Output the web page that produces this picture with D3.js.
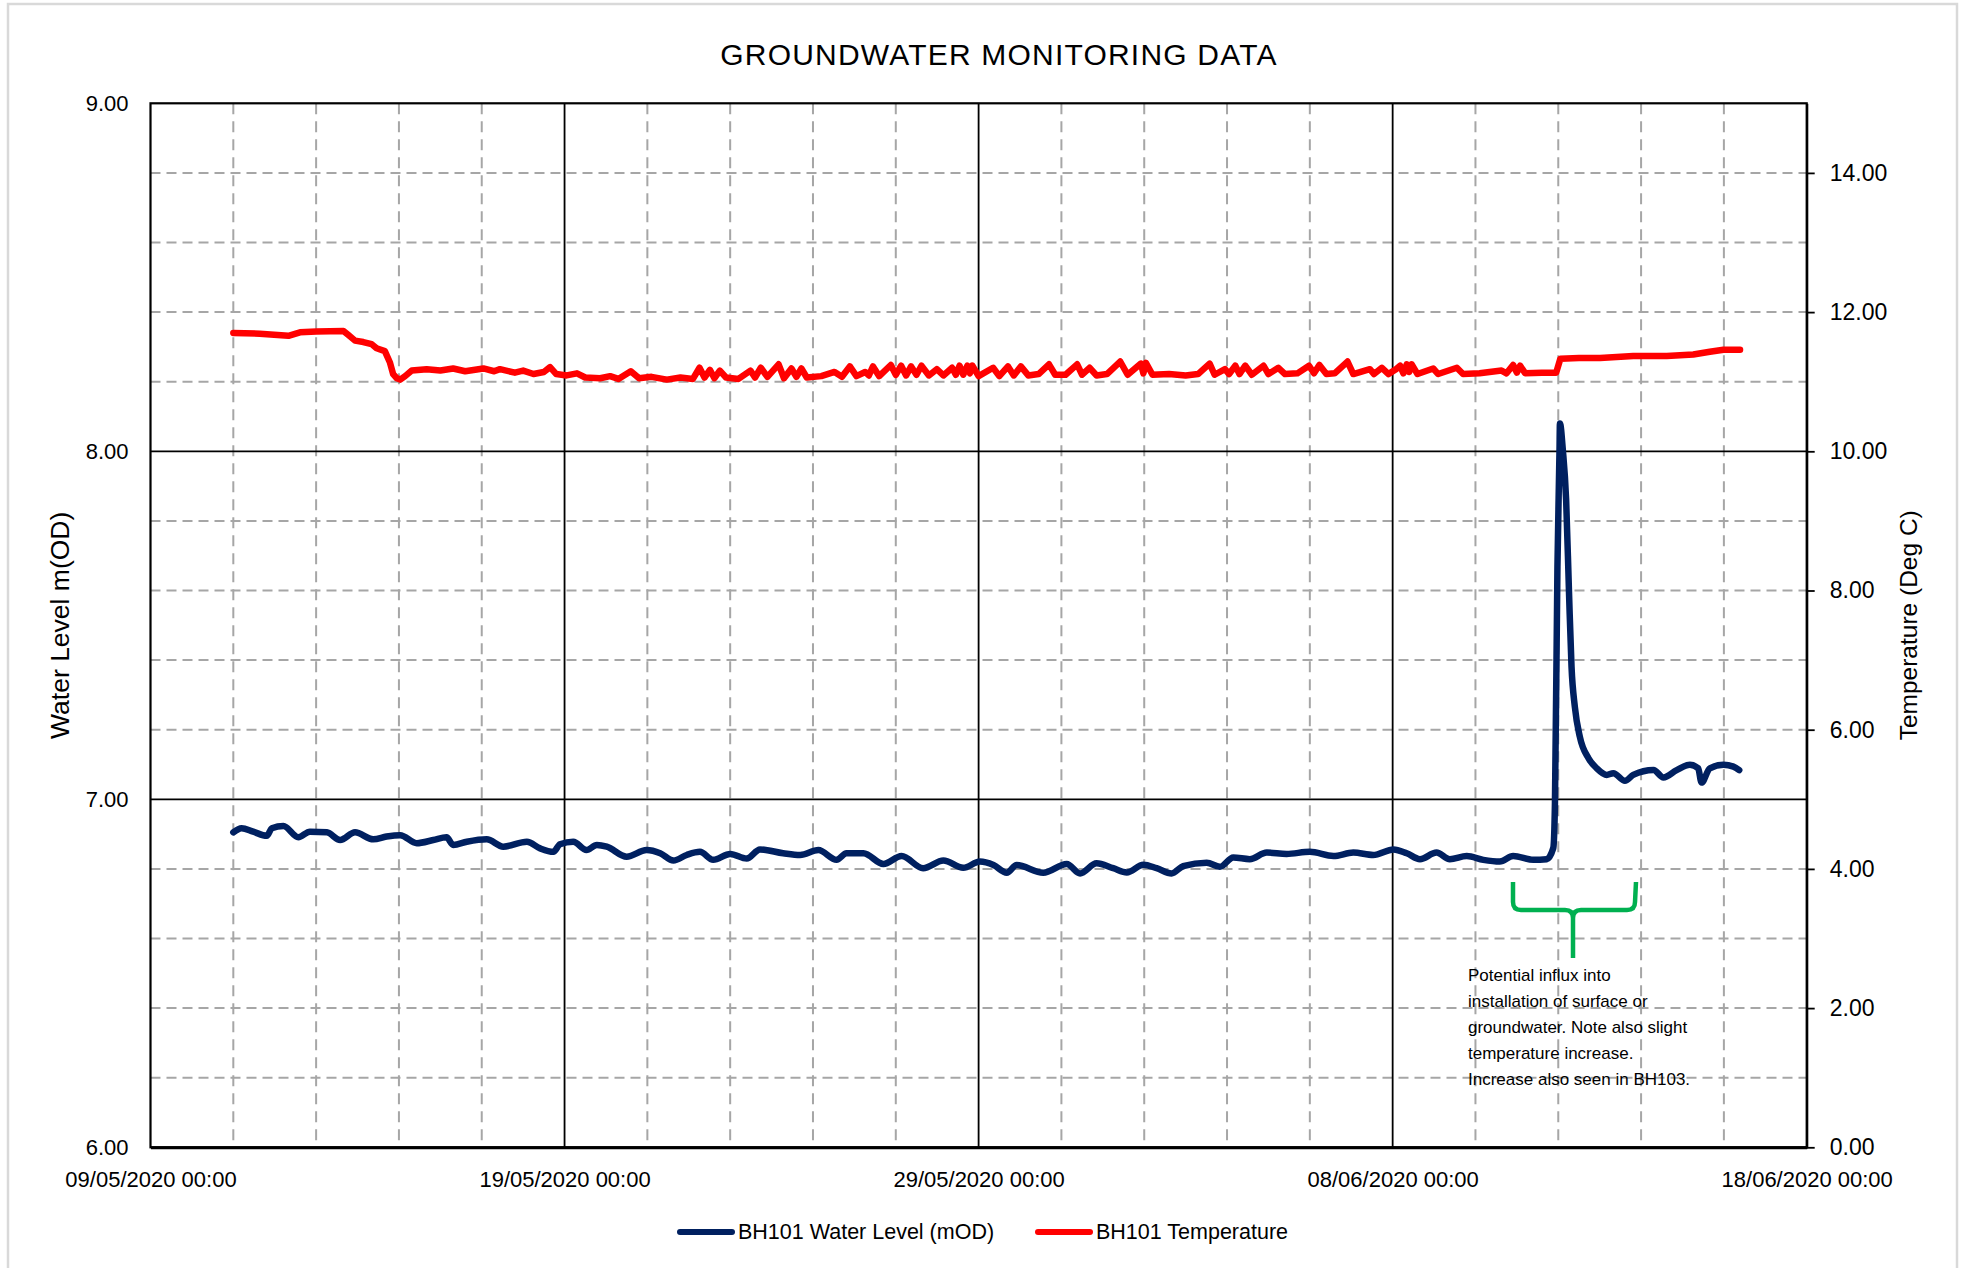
<!DOCTYPE html>
<html>
<head>
<meta charset="utf-8">
<script src="https://cdn.jsdelivr.net/npm/d3@7"></script>
<style>
  html, body { margin: 0; padding: 0; background: #ffffff; }
  svg { display: block; }
</style>
</head>
<body>
<svg id="chart" width="1966" height="1268"></svg>
<script>
// ---- Data -------------------------------------------------------------
const chartTitle = "GROUNDWATER MONITORING DATA";
const startDate = "09/05/2020 00:00";
const endDate = "18/06/2020 00:00";
const dateTicks = ["09/05/2020 00:00", "19/05/2020 00:00", "29/05/2020 00:00", "08/06/2020 00:00", "18/06/2020 00:00"];
const levelTicks = [6, 7, 8, 9];
const tempTicks = [0, 2, 4, 6, 8, 10, 12, 14];
const seriesNames = ["BH101 Water Level (mOD)", "BH101 Temperature"];
const axisTitles = ["Water Level m(OD)", "Temperature (Deg C)"];
const noteLines = [
  "Potential influx into",
  "installation of surface or",
  "groundwater. Note also slight",
  "temperature increase.",
  "Increase also seen in BH103."
];

// Logger readings, time as days elapsed since 09/05/2020 00:00
const levelDays = [
  2.00, 2.20, 2.48, 2.81, 2.93, 3.21, 3.57, 3.85, 4.26, 4.58, 4.94, 5.38, 5.70, 6.03, 6.43, 6.83,
  7.15, 7.31, 7.64, 8.12, 8.52, 9.09, 9.41, 9.73, 9.89, 10.21, 10.53, 10.78, 11.02, 11.50, 11.98,
  12.31, 12.63, 12.95, 13.27, 13.59, 14.00, 14.40, 14.72, 15.28, 15.69, 16.13, 16.57, 16.81, 17.22,
  17.70, 18.14, 18.66, 19.15, 19.63, 20.03, 20.36, 20.68, 20.92, 21.56, 22.13, 22.45, 22.85, 23.25,
  23.58, 23.98, 24.30, 24.66, 24.94, 25.51, 25.83, 26.15, 26.55, 26.96, 27.44, 28.00, 28.57, 29.05,
  29.53, 30.02, 30.34, 30.66, 31.06, 31.38, 31.79, 32.19, 32.59, 32.91, 33.40, 33.72, 33.88, 33.92,
  33.98, 34.03, 34.04, 34.11, 34.19, 34.26, 34.32, 34.40, 34.52, 34.73, 34.93, 35.17, 35.33, 35.61,
  35.81, 36.30, 36.54, 36.86, 37.18, 37.38, 37.46, 37.66, 37.99, 38.23, 38.37
];
const levelValues = [
  6.905, 6.917, 6.907, 6.895, 6.917, 6.923, 6.891, 6.907, 6.905, 6.883, 6.905, 6.885, 6.893, 6.897, 6.874, 6.883,
  6.891, 6.869, 6.878, 6.885, 6.864, 6.878, 6.859, 6.849, 6.871, 6.878, 6.854, 6.869, 6.864, 6.835, 6.854,
  6.845, 6.824, 6.840, 6.849, 6.826, 6.843, 6.830, 6.856, 6.845, 6.840, 6.854, 6.826, 6.845, 6.845,
  6.814, 6.837, 6.802, 6.824, 6.803, 6.821, 6.811, 6.789, 6.811, 6.789, 6.814, 6.787, 6.816, 6.802,
  6.790, 6.812, 6.802, 6.787, 6.808, 6.818, 6.806, 6.833, 6.828, 6.847, 6.843, 6.849, 6.837, 6.847,
  6.840, 6.856, 6.845, 6.828, 6.847, 6.828, 6.837, 6.826, 6.821, 6.837, 6.826, 6.828, 6.860, 6.990,
  7.668, 8.004, 8.080, 8.004, 7.860, 7.592, 7.381, 7.266, 7.180, 7.118, 7.089, 7.070, 7.075, 7.053,
  7.070, 7.084, 7.063, 7.084, 7.099, 7.089, 7.048, 7.089, 7.099, 7.094, 7.084
];

const tempDays = [
  2.00, 2.64, 3.33, 3.61, 4.01, 4.66, 4.78, 4.94, 5.14, 5.34, 5.46, 5.66, 5.78, 5.86, 5.95, 6.03,
  6.15, 6.31, 6.67, 7.00, 7.31, 7.60, 8.04, 8.30, 8.44, 8.80, 9.00, 9.25, 9.50, 9.65, 9.80, 10.05,
  10.30, 10.50, 10.86, 11.10, 11.30, 11.60, 11.80, 12.10, 12.47, 12.80, 13.10, 13.26, 13.38, 13.51,
  13.62, 13.75, 13.90, 14.20, 14.49, 14.60, 14.74, 14.90, 15.17, 15.30, 15.48, 15.60, 15.72, 15.85,
  16.20, 16.52, 16.70, 16.89, 17.05, 17.26, 17.35, 17.45, 17.60, 17.88, 18.00, 18.13, 18.25, 18.37,
  18.50, 18.62, 18.80, 18.99, 19.15, 19.36, 19.45, 19.54, 19.63, 19.73, 19.79, 19.85, 20.00, 20.35,
  20.50, 20.71, 20.85, 21.02, 21.20, 21.45, 21.70, 21.85, 22.10, 22.38, 22.50, 22.68, 22.85, 23.10,
  23.42, 23.60, 23.92, 23.98, 24.04, 24.20, 24.60, 25.00, 25.30, 25.58, 25.70, 25.95, 26.05, 26.20,
  26.30, 26.44, 26.60, 26.88, 27.00, 27.24, 27.40, 27.70, 27.98, 28.10, 28.23, 28.40, 28.60, 28.91,
  29.05, 29.45, 29.55, 29.74, 29.90, 30.08, 30.18, 30.26, 30.34, 30.40, 30.46, 30.60, 30.98, 31.10,
  31.55, 31.70, 32.10, 32.63, 32.75, 32.91, 33.00, 33.08, 33.20, 33.60, 33.95, 34.05, 34.50, 35.01,
  35.81, 36.62, 37.26, 37.66, 37.99, 38.39
];
const tempValues = [
  11.70, 11.69, 11.66, 11.71, 11.72, 11.73, 11.67, 11.59, 11.57, 11.54, 11.48, 11.44, 11.28, 11.11, 11.05, 11.03,
  11.08, 11.16, 11.18, 11.16, 11.19, 11.15, 11.19, 11.15, 11.18, 11.13, 11.16, 11.11, 11.14, 11.21, 11.11, 11.09,
  11.12, 11.06, 11.05, 11.08, 11.04, 11.15, 11.05, 11.07, 11.03, 11.06, 11.04, 11.20, 11.06, 11.17,
  11.05, 11.16, 11.06, 11.04, 11.16, 11.06, 11.20, 11.07, 11.25, 11.05, 11.19, 11.07, 11.19, 11.06,
  11.08, 11.14, 11.07, 11.22, 11.08, 11.14, 11.09, 11.22, 11.08, 11.24, 11.10, 11.23, 11.09, 11.22,
  11.10, 11.23, 11.09, 11.18, 11.09, 11.20, 11.10, 11.23, 11.10, 11.23, 11.12, 11.23, 11.08, 11.20,
  11.08, 11.22, 11.09, 11.22, 11.09, 11.11, 11.25, 11.10, 11.10, 11.25, 11.10, 11.20, 11.09, 11.11,
  11.29, 11.10, 11.26, 11.12, 11.27, 11.10, 11.11, 11.09, 11.11, 11.26, 11.10, 11.18, 11.11, 11.23,
  11.11, 11.23, 11.10, 11.23, 11.11, 11.20, 11.11, 11.12, 11.23, 11.12, 11.24, 11.11, 11.12, 11.29,
  11.11, 11.18, 11.11, 11.20, 11.11, 11.18, 11.23, 11.12, 11.25, 11.14, 11.25, 11.11, 11.19, 11.11,
  11.20, 11.11, 11.12, 11.16, 11.12, 11.24, 11.13, 11.23, 11.12, 11.13, 11.13, 11.33, 11.34, 11.34,
  11.37, 11.37, 11.39, 11.43, 11.46, 11.46
];

// ---- Layout -------------------------------------------------------------
const W = 1966, H = 1268;
const plot = { left: 150.5, right: 1806.7, top: 103.3, bottom: 1147.3 };
const colors = { level: "#002060", temp: "#ff0000", grid: "#a6a6a6", note: "#00b050", frame: "#d9d9d9" };
const font = "'Liberation Sans', Arial, sans-serif";

const parseTime = d3.timeParse("%d/%m/%Y %H:%M");
const formatTime = d3.timeFormat("%d/%m/%Y %H:%M");
const t0 = parseTime(startDate);
const toDate = d => new Date(t0.getTime() + d * 86400000);

const x = d3.scaleTime().domain([t0, parseTime(endDate)]).range([plot.left, plot.right]);
const yLevel = d3.scaleLinear().domain([6, 9]).range([plot.bottom, plot.top]);
const yTemp = d3.scaleLinear().domain([0, 15]).range([plot.bottom, plot.top]);

const levelData = levelDays.map((d, i) => ({ t: toDate(d), v: levelValues[i] }));
const tempData = tempDays.map((d, i) => ({ t: toDate(d), v: tempValues[i] }));

const svg = d3.select("#chart");

// Outer chart-area frame
svg.append("rect")
  .attr("x", 8).attr("y", 4).attr("width", 1949).attr("height", 1290)
  .attr("fill", "#ffffff").attr("stroke", colors.frame).attr("stroke-width", 2.5);

// ---- Gridlines ------------------------------------------------------------
const grid = svg.append("g");
const hValues = yLevel.ticks(15); // every 0.2 m
const isWhole = v => Math.abs(v - Math.round(v)) < 1e-6;

grid.selectAll("line.hminor")
  .data(hValues.filter(v => !isWhole(v)))
  .join("line")
  .attr("x1", plot.left).attr("x2", plot.right)
  .attr("y1", d => yLevel(d)).attr("y2", d => yLevel(d))
  .attr("stroke", colors.grid).attr("stroke-width", 2).attr("stroke-dasharray", "10,6");

const dayMarks = d3.range(0, 41, 2);
grid.selectAll("line.vminor")
  .data(dayMarks.filter(d => d % 10 !== 0))
  .join("line")
  .attr("x1", d => x(d3.timeDay.offset(t0, d))).attr("x2", d => x(d3.timeDay.offset(t0, d)))
  .attr("y1", plot.top).attr("y2", plot.bottom)
  .attr("stroke", colors.grid).attr("stroke-width", 2).attr("stroke-dasharray", "11,7");

grid.selectAll("line.hmajor")
  .data(hValues.filter(v => isWhole(v) && v > 6 && v < 9))
  .join("line")
  .attr("x1", plot.left).attr("x2", plot.right)
  .attr("y1", d => yLevel(d)).attr("y2", d => yLevel(d))
  .attr("stroke", "#000").attr("stroke-width", 1.8);

grid.selectAll("line.vmajor")
  .data(dayMarks.filter(d => d % 10 === 0 && d > 0 && d < 40))
  .join("line")
  .attr("x1", d => x(d3.timeDay.offset(t0, d))).attr("x2", d => x(d3.timeDay.offset(t0, d)))
  .attr("y1", plot.top).attr("y2", plot.bottom)
  .attr("stroke", "#000").attr("stroke-width", 1.8);

// Plot border
svg.append("rect")
  .attr("x", plot.left).attr("y", plot.top)
  .attr("width", plot.right - plot.left).attr("height", plot.bottom - plot.top)
  .attr("fill", "none").attr("stroke", "#000").attr("stroke-width", 2.2);

// ---- Axes -----------------------------------------------------------------
const axisLeft = svg.append("g")
  .attr("transform", `translate(${plot.left},0)`)
  .call(d3.axisLeft(yLevel).tickValues(levelTicks).tickFormat(d3.format(".2f")).tickSize(0).tickPadding(22));
axisLeft.select(".domain").remove();
axisLeft.selectAll("text").attr("font-family", font).attr("font-size", 22).attr("fill", "#000");

const axisRight = svg.append("g")
  .attr("transform", `translate(${plot.right},0)`)
  .call(d3.axisRight(yTemp).tickValues(tempTicks).tickFormat(d3.format(".2f")).tickSize(8).tickPadding(15).tickSizeOuter(0));
axisRight.select(".domain").attr("stroke", "#000").attr("stroke-width", 2.2);
axisRight.selectAll(".tick line").attr("stroke", "#000").attr("stroke-width", 1.8);
axisRight.selectAll("text").attr("font-family", font).attr("font-size", 23).attr("fill", "#000");

const axisBottom = svg.append("g")
  .attr("transform", `translate(0,${plot.bottom})`)
  .call(d3.axisBottom(x).tickValues(dateTicks.map(parseTime)).tickFormat(formatTime).tickSize(0).tickPadding(24));
axisBottom.select(".domain").attr("stroke", "#000").attr("stroke-width", 3);
axisBottom.selectAll("text").attr("font-family", font).attr("font-size", 22).attr("fill", "#000");

// Axis titles
svg.append("text")
  .attr("transform", `translate(60,${(plot.top + plot.bottom) / 2}) rotate(-90)`)
  .attr("text-anchor", "middle").attr("dominant-baseline", "central")
  .attr("font-family", font).attr("font-size", 26.5).attr("fill", "#000")
  .text(axisTitles[0]);
svg.append("text")
  .attr("transform", `translate(1908,${(plot.top + plot.bottom) / 2}) rotate(-90)`)
  .attr("text-anchor", "middle").attr("dominant-baseline", "central")
  .attr("font-family", font).attr("font-size", 24.5).attr("fill", "#000")
  .text(axisTitles[1]);

// Title
svg.append("text")
  .attr("x", 999).attr("y", 65)
  .attr("text-anchor", "middle")
  .attr("font-family", font).attr("font-size", 30).attr("letter-spacing", 1.2).attr("fill", "#000")
  .text(chartTitle);

// ---- Series -----------------------------------------------------------------
const tempLine = d3.line().x(d => x(d.t)).y(d => yTemp(d.v));
const levelLine = d3.line().x(d => x(d.t)).y(d => yLevel(d.v)).curve(d3.curveMonotoneX);

svg.append("path")
  .datum(tempData)
  .attr("d", tempLine)
  .attr("fill", "none").attr("stroke", colors.temp).attr("stroke-width", 6.5)
  .attr("stroke-linejoin", "round").attr("stroke-linecap", "round");

svg.append("path")
  .datum(levelData)
  .attr("d", levelLine)
  .attr("fill", "none").attr("stroke", colors.level).attr("stroke-width", 6.5)
  .attr("stroke-linejoin", "round").attr("stroke-linecap", "round");

// ---- Annotation -------------------------------------------------------------
svg.append("path")
  .attr("d", "M1513,882 L1513,902 Q1513,910 1521,910 L1565,910 Q1573,910 1573,918 L1573,958 " +
             "M1573,918 Q1573,910 1581,910 L1627,910 Q1635,910 1635,902 L1636,882")
  .attr("fill", "none").attr("stroke", colors.note).attr("stroke-width", 4.5)
  .attr("stroke-linejoin", "round");

svg.append("g").selectAll("text")
  .data(noteLines)
  .join("text")
  .attr("x", 1468).attr("y", (d, i) => 981 + i * 26)
  .attr("font-family", font).attr("font-size", 17).attr("fill", "#000")
  .text(d => d);

// ---- Legend -----------------------------------------------------------------
const legend = svg.append("g");
const legendItems = [
  { name: seriesNames[0], color: colors.level, x: 680 },
  { name: seriesNames[1], color: colors.temp, x: 1038 }
];
legendItems.forEach(item => {
  legend.append("line")
    .attr("x1", item.x).attr("x2", item.x + 52)
    .attr("y1", 1232).attr("y2", 1232)
    .attr("stroke", item.color).attr("stroke-width", 6).attr("stroke-linecap", "round");
  legend.append("text")
    .attr("x", item.x + 58).attr("y", 1232)
    .attr("dominant-baseline", "central")
    .attr("font-family", font).attr("font-size", 21.5).attr("fill", "#000")
    .text(item.name);
});
</script>
</body>
</html>
